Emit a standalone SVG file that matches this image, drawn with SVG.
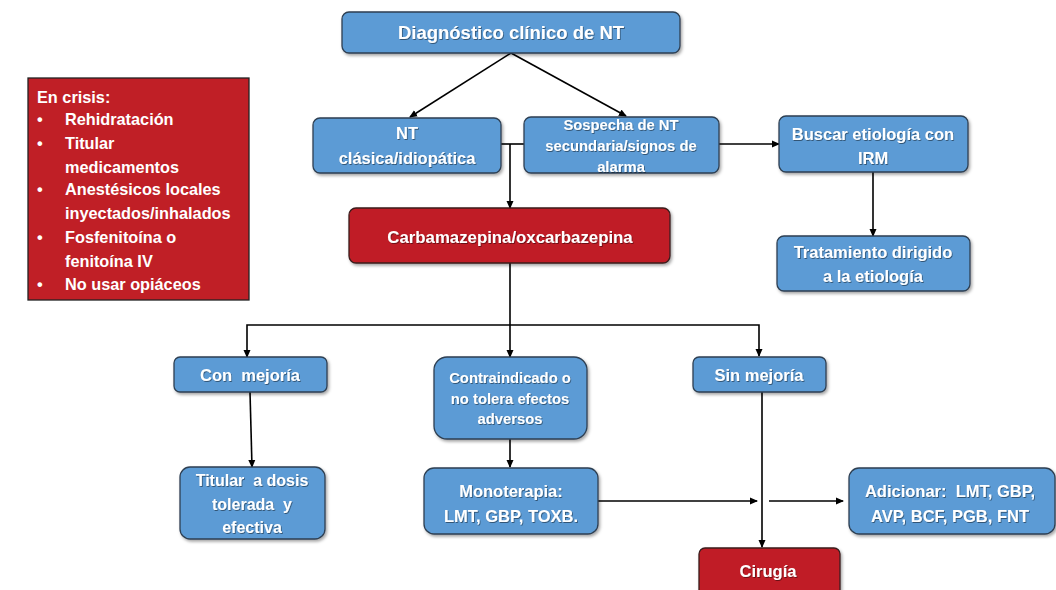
<svg xmlns="http://www.w3.org/2000/svg" width="1056" height="590" viewBox="0 0 1056 590">
<defs>
<filter id="sh" x="-10%" y="-10%" width="130%" height="140%">
<feDropShadow dx="1.5" dy="2" stdDeviation="1.5" flood-color="#000" flood-opacity="0.35"/>
</filter>
<filter id="ts" x="-5%" y="-20%" width="110%" height="150%">
<feDropShadow dx="0.8" dy="1" stdDeviation="0.6" flood-color="#000" flood-opacity="0.45"/>
</filter>
<marker id="ar" markerWidth="8" markerHeight="8" refX="7" refY="4" orient="auto" markerUnits="userSpaceOnUse">
<path d="M0,0.5 L8,4 L0,7.5 Z" fill="#000"/>
</marker>
<style>
.b{fill:#5b9bd5;stroke:#2e3f52;stroke-width:1.3;filter:url(#sh)}
.r{fill:#c01f26;stroke:#3a1d1d;stroke-width:1.3;filter:url(#sh)}
.t{font-family:"Liberation Sans",Arial,sans-serif;font-weight:bold;fill:#fff;text-anchor:middle;filter:url(#ts)}
.l{font-family:"Liberation Sans",Arial,sans-serif;font-weight:bold;fill:#fff}
.c{stroke:#000;stroke-width:1.6;fill:none}
.a{marker-end:url(#ar)}
</style>
</defs>
<g id="connectors">
<line class="c a" x1="511" y1="53" x2="410" y2="117"/>
<line class="c a" x1="511" y1="53" x2="626" y2="116"/>
<line class="c" x1="501" y1="144" x2="524" y2="144"/>
<line class="c a" x1="510" y1="144" x2="510" y2="208"/>
<line class="c a" x1="719" y1="144" x2="779" y2="144"/>
<line class="c a" x1="873" y1="172" x2="873" y2="236"/>
<line class="c a" x1="510" y1="263" x2="510" y2="357"/>
<polyline class="c a" points="510,325 247,325 247,357"/>
<polyline class="c a" points="510,325 759,325 759,356"/>
<line class="c a" x1="250" y1="392" x2="252" y2="467"/>
<line class="c a" x1="510" y1="439" x2="510" y2="467"/>
<line class="c a" x1="598" y1="501" x2="757" y2="501"/>
<line class="c a" x1="769" y1="501" x2="843" y2="501"/>
<line class="c a" x1="762" y1="392" x2="762" y2="547"/>
</g>
<g id="n-diag">
<rect class="b" x="342" y="12" width="338" height="41" rx="7"/>
<text class="t" x="511" y="39" font-size="18.5">Diagnóstico clínico de NT</text>
</g>
<g id="n-crisis">
<rect x="28" y="78" width="221" height="222" fill="#c01f26" stroke="#222" stroke-width="1.3"/>
<g class="l" font-size="16.3">
<text class="l" x="37" y="103">En crisis:</text>
<text class="l" x="37" y="125">•</text><text class="l" x="65" y="125">Rehidratación</text>
<text class="l" x="37" y="149">•</text><text class="l" x="65" y="149">Titular</text>
<text class="l" x="65" y="173">medicamentos</text>
<text class="l" x="37" y="195">•</text><text class="l" x="65" y="195">Anestésicos locales</text>
<text class="l" x="65" y="219">inyectados/inhalados</text>
<text class="l" x="37" y="243">•</text><text class="l" x="65" y="243">Fosfenitoína o</text>
<text class="l" x="65" y="267">fenitoína IV</text>
<text class="l" x="37" y="290">•</text><text class="l" x="65" y="290">No usar opiáceos</text>
</g>
</g>
<g id="n-clasica">
<rect class="b" x="313" y="118" width="188" height="55" rx="7"/>
<text class="t" font-size="16.5"><tspan x="407" y="139">NT</tspan><tspan x="407" y="164">clásica/idiopática</tspan></text>
</g>
<g id="n-sospecha">
<rect class="b" x="524" y="117" width="195" height="56" rx="7"/>
<text class="t" font-size="14.8"><tspan x="621" y="130">Sospecha de NT</tspan><tspan x="621" y="151">secundaria/signos de</tspan><tspan x="621" y="172">alarma</tspan></text>
</g>
<g id="n-buscar">
<rect class="b" x="779" y="116" width="189" height="56" rx="7"/>
<text class="t" font-size="16.5"><tspan x="873" y="140">Buscar etiología con</tspan><tspan x="873" y="164">IRM</tspan></text>
</g>
<g id="n-tratamiento">
<rect class="b" x="777" y="236" width="193" height="55" rx="7"/>
<text class="t" font-size="16.5"><tspan x="873" y="258">Tratamiento dirigido</tspan><tspan x="873" y="282">a la etiología</tspan></text>
</g>
<g id="n-carba">
<rect class="r" x="349" y="208" width="321" height="55" rx="7"/>
<text class="t" x="510" y="243" font-size="16.8">Carbamazepina/oxcarbazepina</text>
</g>
<g id="n-con">
<rect class="b" x="174" y="357" width="153" height="35" rx="6"/>
<text class="t" x="250" y="381" font-size="16.5" xml:space="preserve">Con  mejoría</text>
</g>
<g id="n-contra">
<rect class="b" x="434" y="357" width="153" height="82" rx="13"/>
<text class="t" font-size="14.8"><tspan x="510" y="383">Contraindicado o</tspan><tspan x="510" y="404">no tolera efectos</tspan><tspan x="510" y="424">adversos</tspan></text>
</g>
<g id="n-sin">
<rect class="b" x="693" y="357" width="133" height="35" rx="6"/>
<text class="t" x="759" y="381" font-size="16.5">Sin mejoría</text>
</g>
<g id="n-titular">
<rect class="b" x="180" y="467" width="145" height="72" rx="10"/>
<text class="t" font-size="16" xml:space="preserve"><tspan x="252" y="486">Titular  a dosis</tspan><tspan x="252" y="510">tolerada  y</tspan><tspan x="252" y="533">efectiva</tspan></text>
</g>
<g id="n-mono">
<rect class="b" x="424" y="468" width="174" height="66" rx="10"/>
<text class="t" font-size="16.5"><tspan x="511" y="497">Monoterapia:</tspan><tspan x="511" y="522">LMT, GBP, TOXB.</tspan></text>
</g>
<g id="n-adicionar">
<rect class="b" x="849" y="468" width="206" height="66" rx="10"/>
<text class="t" font-size="16.5" xml:space="preserve"><tspan x="950" y="497">Adicionar:  LMT, GBP,</tspan><tspan x="950" y="522">AVP, BCF, PGB, FNT</tspan></text>
</g>
<g id="n-cirugia">
<rect class="r" x="699" y="548" width="141" height="48" rx="6"/>
<text class="t" x="768" y="577" font-size="16.5">Cirugía</text>
</g>
</svg>
